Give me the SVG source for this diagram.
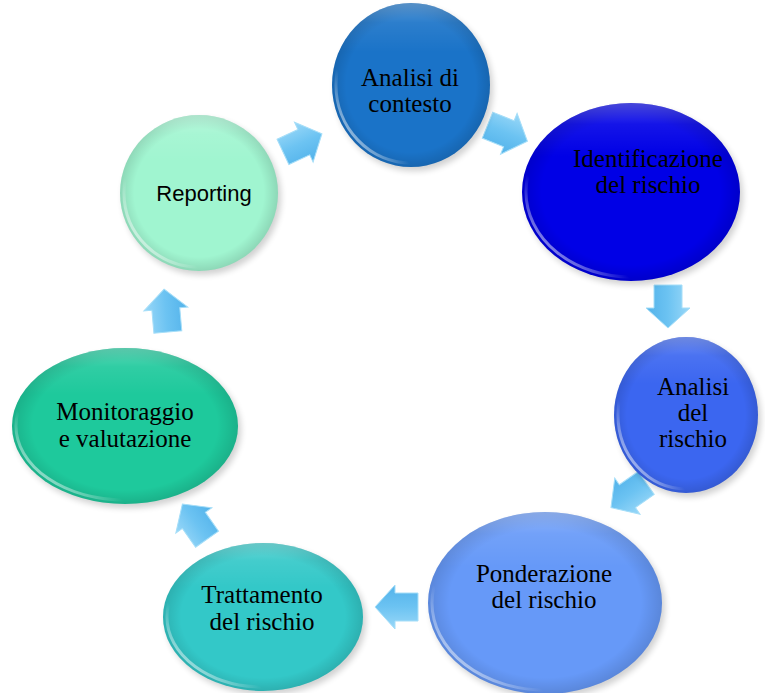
<svg xmlns="http://www.w3.org/2000/svg" width="765" height="693" viewBox="0 0 765 693">
  <style>
    .lbl { font-family: "Liberation Serif", "Times New Roman", serif; font-size: 25px; fill: #000; text-anchor: middle; }
    .sans { font-family: "Liberation Sans", Arial, sans-serif; font-size: 22px; fill: #000; text-anchor: middle; }
    .shade { fill: url(#rim); }
    .gloss { fill: url(#gloss); }
    .hl { fill: none; stroke: url(#hlg); stroke-width: 3; }
    .shadow { fill: #000; opacity: 0.18; filter: url(#blur); }
    .arrow { fill: url(#ag); stroke: #a6def8; stroke-width: 1; }
  </style>
  <defs>
    <filter id="blur" x="-20%" y="-20%" width="140%" height="140%">
      <feGaussianBlur stdDeviation="3"/>
    </filter>
    <radialGradient id="rim" cx="0.5" cy="0.5" r="0.5">
      <stop offset="0.82" stop-color="#000" stop-opacity="0"/>
      <stop offset="1" stop-color="#000" stop-opacity="0.12"/>
    </radialGradient>
    <linearGradient id="gloss" x1="0" y1="0" x2="0" y2="1">
      <stop offset="0" stop-color="#fff" stop-opacity="0.28"/>
      <stop offset="0.12" stop-color="#fff" stop-opacity="0.08"/>
      <stop offset="0.3" stop-color="#fff" stop-opacity="0"/>
    </linearGradient>
    <linearGradient id="hlg" x1="0" y1="0.9" x2="0.5" y2="0.5">
      <stop offset="0" stop-color="#fff" stop-opacity="0.85"/>
      <stop offset="0.5" stop-color="#fff" stop-opacity="0"/>
    </linearGradient>
    <linearGradient id="ag" x1="0" y1="0" x2="0" y2="1">
      <stop offset="0" stop-color="#9ad8f8"/>
      <stop offset="0.5" stop-color="#6cc3f2"/>
      <stop offset="1" stop-color="#52b2ea"/>
    </linearGradient>
    <path id="arr" d="M-21,-14 H2 V-22 L22,0 L2,22 V14 H-21 Z"/>
  </defs>
  <rect width="765" height="693" fill="#fff"/>

  <g id="connectors">
    <use href="#arr" class="arrow" transform="translate(302,143) rotate(-25)"/>
    <use href="#arr" class="arrow" transform="translate(507,133) rotate(22)"/>
    <use href="#arr" class="arrow" transform="translate(668,306) rotate(90)"/>
    <use href="#arr" class="arrow" transform="translate(629,495) rotate(145)"/>
    <use href="#arr" class="arrow" transform="translate(397,607) rotate(180)"/>
    <use href="#arr" class="arrow" transform="translate(195,522) rotate(-125)"/>
    <use href="#arr" class="arrow" transform="translate(166,311) rotate(-95)"/>
  </g>

  <g id="n1">
    <ellipse class="shadow" cx="414" cy="89" rx="79" ry="82"/>
    <ellipse cx="411" cy="85" rx="79" ry="82" fill="#1a73c8"/>
    <ellipse class="shade" cx="411" cy="85" rx="79" ry="82"/>
    <ellipse class="gloss" cx="411" cy="85" rx="79" ry="82"/>
    <ellipse class="hl" cx="411" cy="85" rx="75" ry="78"/>
    <text class="lbl" x="410" y="86">Analisi di</text>
    <text class="lbl" x="410" y="112">contesto</text>
  </g>

  <g id="n2">
    <ellipse class="shadow" cx="634" cy="196" rx="109" ry="89"/>
    <ellipse cx="631" cy="192" rx="109" ry="89" fill="#0000e6"/>
    <ellipse class="shade" cx="631" cy="192" rx="109" ry="89"/>
    <ellipse class="gloss" cx="631" cy="192" rx="109" ry="89"/>
    <ellipse class="hl" cx="631" cy="192" rx="105" ry="85"/>
    <text class="lbl" x="648" y="167">Identificazione</text>
    <text class="lbl" x="648" y="193">del rischio</text>
  </g>

  <g id="n3">
    <ellipse class="shadow" cx="689" cy="419" rx="72" ry="78"/>
    <ellipse cx="686" cy="415" rx="72" ry="78" fill="#3b66f0"/>
    <ellipse class="shade" cx="686" cy="415" rx="72" ry="78"/>
    <ellipse class="gloss" cx="686" cy="415" rx="72" ry="78"/>
    <ellipse class="hl" cx="686" cy="415" rx="68" ry="74"/>
    <text class="lbl" x="693" y="395">Analisi</text>
    <text class="lbl" x="693" y="421">del</text>
    <text class="lbl" x="693" y="447">rischio</text>
  </g>

  <g id="n4">
    <ellipse class="shadow" cx="548" cy="607" rx="117" ry="91"/>
    <ellipse cx="545" cy="603" rx="117" ry="91" fill="#6699f8"/>
    <ellipse class="shade" cx="545" cy="603" rx="117" ry="91"/>
    <ellipse class="gloss" cx="545" cy="603" rx="117" ry="91"/>
    <ellipse class="hl" cx="545" cy="603" rx="113" ry="87"/>
    <text class="lbl" x="544" y="582">Ponderazione</text>
    <text class="lbl" x="544" y="608">del rischio</text>
  </g>

  <g id="n5">
    <ellipse class="shadow" cx="266" cy="621" rx="100" ry="74"/>
    <ellipse cx="263" cy="617" rx="100" ry="74" fill="#33c8c8"/>
    <ellipse class="shade" cx="263" cy="617" rx="100" ry="74"/>
    <ellipse class="gloss" cx="263" cy="617" rx="100" ry="74"/>
    <ellipse class="hl" cx="263" cy="617" rx="96" ry="70"/>
    <text class="lbl" x="262" y="603">Trattamento</text>
    <text class="lbl" x="262" y="630">del rischio</text>
  </g>

  <g id="n6">
    <ellipse class="shadow" cx="128" cy="430" rx="113" ry="78"/>
    <ellipse cx="125" cy="426" rx="113" ry="78" fill="#1ec99c"/>
    <ellipse class="shade" cx="125" cy="426" rx="113" ry="78"/>
    <ellipse class="gloss" cx="125" cy="426" rx="113" ry="78"/>
    <ellipse class="hl" cx="125" cy="426" rx="109" ry="74"/>
    <text class="lbl" x="125" y="420">Monitoraggio</text>
    <text class="lbl" x="125" y="447">e valutazione</text>
  </g>

  <g id="n7">
    <ellipse class="shadow" cx="202" cy="197" rx="79" ry="78"/>
    <ellipse cx="199" cy="193" rx="79" ry="78" fill="#a0f5d0"/>
    <ellipse class="shade" cx="199" cy="193" rx="79" ry="78"/>
    <ellipse class="gloss" cx="199" cy="193" rx="79" ry="78"/>
    <ellipse class="hl" cx="199" cy="193" rx="75" ry="74"/>
    <text class="sans" x="204" y="201">Reporting</text>
  </g>
</svg>
